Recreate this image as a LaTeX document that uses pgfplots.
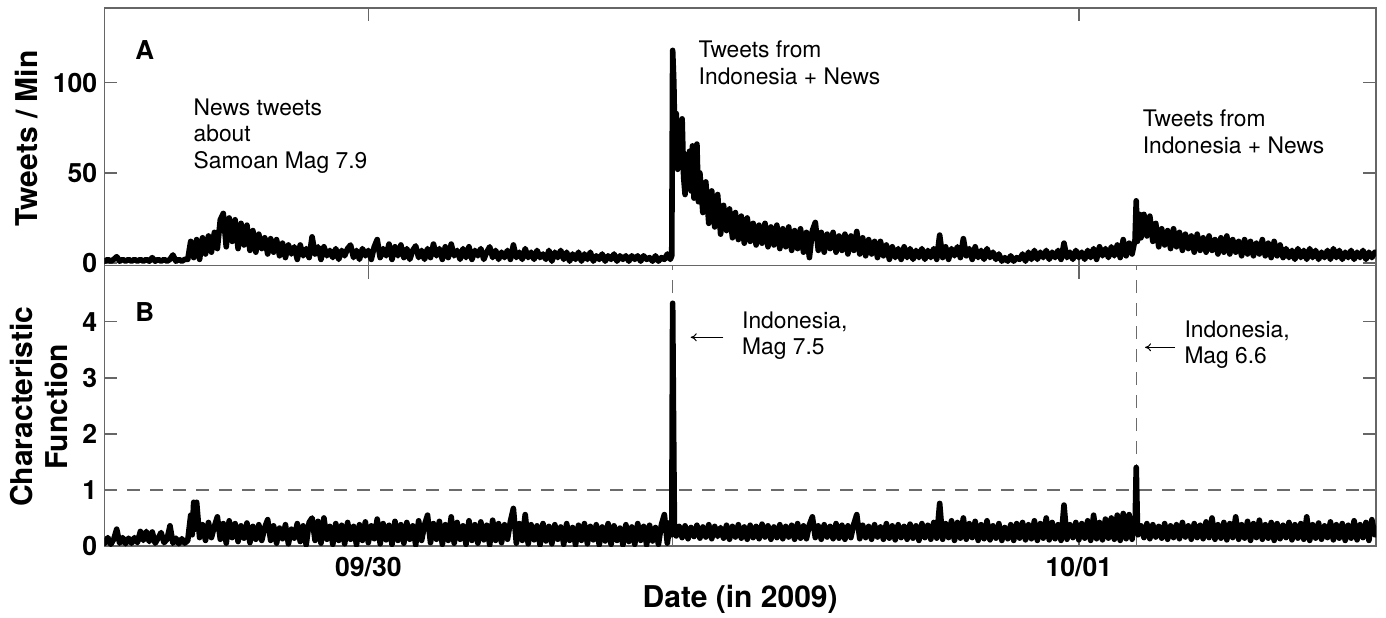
\documentclass[border=0pt]{standalone}
\usepackage{pgfplots}
\pgfplotsset{compat=1.18}
\usepackage{pgfplotstable}
\usepackage{fontspec}
\setmainfont{TeX Gyre Heros}
\usetikzlibrary{arrows.meta}
\definecolor{axgray}{gray}{0.4}
\definecolor{dashgray}{gray}{0.42}
\pgfplotsset{
 myaxis/.style={
  scale only axis, width=635.85pt, anchor=south west,
  xmin=15.081, xmax=58.04,
  xtick={24,48},
  tick align=inside, major tick length=6.5pt,
  axis line style={axgray, line width=0.7pt},
  tick style={axgray, line width=0.7pt},
  xtick pos=both, ytick pos=both,
  ticklabel style={font=\fontsize{13.3}{15}\selectfont\bfseries},
  /pgf/number format/assume math mode=true,
  label style={font=\fontsize{15}{17.5}\selectfont\bfseries},
 },
 dataline/.style={black, line width=2.8pt, line join=round, line cap=round, no markers},
 dashline/.style={dashgray, line width=0.6pt, dash pattern=on 6.5pt off 5pt, no markers},
}
\newcommand{\ann}{\fontsize{11.4}{13}\selectfont}
\begin{document}
\pgfplotstableread[row sep=\\]{
x y\\
15.1 1\\15.2 2\\15.3 1\\15.4 2\\15.5 3.5\\15.6 1\\15.7 2\\15.8 1\\15.9 2\\16.0 1\\
16.1 2\\16.2 1\\16.3 2\\16.4 1\\16.5 2\\16.6 1\\16.7 3\\16.8 1\\16.9 2\\17.0 1\\
17.1 2\\17.2 1\\17.3 2\\17.4 4.5\\17.5 1\\17.6 2\\17.7 1\\17.8 2\\17.9 2\\18.0 12\\
18.1 3\\18.2 13\\18.3 2\\18.4 14\\18.5 5\\18.6 15\\18.7 6\\18.8 17\\18.9 8\\19.0 24\\
19.1 27.5\\19.2 9\\19.3 25\\19.4 12\\19.5 24\\19.6 8\\19.7 22\\19.8 10\\19.9 21\\20.0 7\\
20.1 18\\20.2 6\\20.3 16\\20.4 8\\20.5 14\\20.6 5\\20.7 13.5\\20.8 6\\20.9 13\\21.0 4\\
21.1 11\\21.2 3\\21.3 10\\21.4 5\\21.5 9\\21.6 2\\21.7 10\\21.8 4\\21.9 8\\22.0 3\\
22.1 14.5\\22.2 5\\22.3 9\\22.4 2\\22.5 9\\22.6 4\\22.7 7\\22.8 3\\22.9 8\\23.0 2\\
23.1 7\\23.2 4\\23.3 8\\23.4 10\\23.5 3\\23.6 7\\23.7 2\\23.8 8\\23.9 4\\24.0 7\\
24.1 2\\24.2 9\\24.3 13\\24.4 3\\24.5 8\\24.6 4\\24.7 10.5\\24.8 2\\24.9 9\\25.0 4\\
25.1 10\\25.2 3\\25.3 8\\25.4 2\\25.5 7\\25.6 9.5\\25.7 3\\25.8 7\\25.9 2\\26.0 8\\
26.1 3\\26.2 10.5\\26.3 4\\26.4 8\\26.5 2\\26.6 9\\26.7 3\\26.8 10.5\\26.9 4\\27.0 7\\
27.1 2\\27.2 8\\27.3 3\\27.4 9\\27.5 2\\27.6 7\\27.7 4\\27.8 8\\27.9 2\\28.0 6\\
28.1 9\\28.2 3\\28.3 7\\28.4 2\\28.5 6\\28.6 3\\28.7 7\\28.8 2\\28.9 10\\29.0 3\\
29.1 6\\29.2 2\\29.3 8\\29.4 3\\29.5 6\\29.6 2\\29.7 7\\29.8 3\\29.9 5\\30.0 2\\
30.1 7\\30.2 1\\30.3 6\\30.4 3\\30.5 7\\30.6 2\\30.7 6\\30.8 1\\30.9 5\\31.0 2\\
31.1 6\\31.2 1\\31.3 5\\31.4 2\\31.5 6\\31.6 1\\31.7 4\\31.8 2\\31.9 5\\32.0 1\\
32.1 4\\32.2 2\\32.3 5\\32.4 1\\32.5 4\\32.6 2\\32.7 4\\32.8 1\\32.9 4\\33.0 2\\
33.1 4\\33.2 1\\33.3 4\\33.4 2\\33.5 3\\33.6 1\\33.7 4\\33.8 1\\33.9 3\\34.0 2\\
34.1 5\\34.2 2\\34.25 4\\34.28 118\\34.32 100\\34.36 62\\34.4 83\\34.45 52\\34.5 75\\34.55 58\\
34.6 80\\34.65 48\\34.7 38\\34.75 60\\34.8 45\\34.85 62\\34.9 40\\34.95 65\\35.0 36\\35.05 60\\
35.1 66\\35.15 34\\35.2 50\\35.3 28\\35.4 45\\35.5 22\\35.6 40\\35.7 20\\35.8 38\\35.9 16\\
36.0 32\\36.1 18\\36.2 30\\36.3 14\\36.4 28\\36.5 13\\36.6 26\\36.7 11\\36.8 25\\36.9 12\\
37.0 22\\37.1 10\\37.2 21\\37.3 11\\37.4 22\\37.5 9\\37.6 20\\37.7 10\\37.8 21\\37.9 8\\
38.0 19\\38.1 9\\38.2 20\\38.3 7\\38.4 18\\38.5 8\\38.6 19\\38.7 6\\38.8 17\\38.9 3\\
39.0 18\\39.1 22.5\\39.2 7\\39.3 17\\39.4 6\\39.5 16\\39.6 8\\39.7 17\\39.8 6\\39.9 15\\
40.0 7\\40.1 16\\40.2 5\\40.3 15\\40.4 7\\40.5 17.5\\40.6 5\\40.7 14\\40.8 4\\40.9 13\\
41.0 5\\41.1 12\\41.2 3\\41.3 12\\41.4 4\\41.5 10\\41.6 2\\41.7 9\\41.8 3\\41.9 8\\
42.0 2\\42.1 9\\42.2 3\\42.3 8\\42.4 2\\42.5 7\\42.6 3\\42.7 8\\42.8 2\\42.9 7\\
43.0 3\\43.1 8\\43.2 2\\43.3 15.5\\43.4 3\\43.5 9\\43.6 2\\43.7 8\\43.8 4\\43.9 9\\
44.0 3\\44.1 13.5\\44.2 4\\44.3 8\\44.4 2\\44.5 9\\44.6 3\\44.7 7\\44.8 2\\44.9 8\\
45.0 3\\45.1 6\\45.2 2\\45.3 5\\45.4 1\\45.5 3\\45.6 1\\45.7 4\\45.8 1\\45.9 3\\
46.0 2\\46.1 5\\46.2 1\\46.3 6\\46.4 2\\46.5 7\\46.6 2\\46.7 6\\46.8 3\\46.9 7\\
47.0 2\\47.1 6\\47.2 3\\47.3 7\\47.4 2\\47.5 11\\47.6 3\\47.7 6\\47.8 2\\47.9 7\\
48.0 3\\48.1 6\\48.2 2\\48.3 7\\48.4 3\\48.5 8\\48.6 2\\48.7 9\\48.8 4\\48.9 8\\
49.0 3\\49.1 9\\49.2 4\\49.3 10\\49.4 3\\49.5 13\\49.6 4\\49.7 11\\49.8 5\\49.9 13\\
49.94 34.5\\49.98 12\\50.0 20\\50.05 27\\50.1 14\\50.2 27\\50.3 15\\50.4 26\\50.5 12\\50.6 22\\
50.7 9\\50.8 19\\50.9 10\\51.0 18\\51.1 8\\51.2 19\\51.3 9\\51.4 17\\51.5 7\\51.6 16\\
51.7 8\\51.8 15\\51.9 6\\52.0 16\\52.1 7\\52.2 14\\52.3 6\\52.4 15\\52.5 7\\52.6 13\\
52.7 5\\52.8 14\\52.9 6\\53.0 15\\53.1 5\\53.2 13\\53.3 6\\53.4 12\\53.5 4\\53.6 13\\
53.7 5\\53.8 12\\53.9 4\\54.0 11\\54.1 5\\54.2 13\\54.3 4\\54.4 11\\54.5 3\\54.6 12\\
54.7 4\\54.8 10\\54.9 3\\55.0 8\\55.1 3\\55.2 7\\55.3 2\\55.4 8\\55.5 3\\55.6 7\\
55.7 2\\55.8 8\\55.9 3\\56.0 7\\56.1 2\\56.2 6\\56.3 3\\56.4 7\\56.5 2\\56.6 8\\
56.7 3\\56.8 7\\56.9 2\\57.0 6\\57.1 3\\57.2 7\\57.3 2\\57.4 6\\57.5 3\\57.6 7\\
57.7 2\\57.8 6\\57.9 3\\58.0 6\\
}\tweets
\pgfplotstableread[row sep=\\]{
x y\\
15.1 0.05\\15.2 0.15\\15.3 0.03\\15.4 0.12\\15.5 0.3\\15.6 0.05\\15.7 0.15\\15.8 0.04\\15.9 0.14\\16.0 0.05\\
16.1 0.15\\16.2 0.06\\16.3 0.26\\16.4 0.1\\16.5 0.26\\16.6 0.08\\16.7 0.25\\16.8 0.05\\16.9 0.14\\17.0 0.24\\
17.1 0.06\\17.2 0.12\\17.3 0.36\\17.4 0.05\\17.5 0.14\\17.6 0.04\\17.7 0.13\\17.8 0.05\\17.9 0.1\\18.0 0.55\\
18.05 0.2\\18.1 0.78\\18.15 0.3\\18.2 0.78\\18.3 0.15\\18.4 0.38\\18.5 0.1\\18.6 0.42\\18.7 0.15\\18.8 0.35\\
18.9 0.52\\19.0 0.12\\19.1 0.4\\19.2 0.05\\19.3 0.45\\19.4 0.15\\19.5 0.4\\19.6 0.08\\19.7 0.36\\19.8 0.14\\
19.9 0.41\\20.0 0.06\\20.1 0.35\\20.2 0.12\\20.3 0.38\\20.4 0.1\\20.5 0.33\\20.6 0.47\\20.7 0.1\\20.8 0.36\\
20.9 0.05\\21.0 0.32\\21.1 0.13\\21.2 0.38\\21.3 0.04\\21.4 0.3\\21.5 0.14\\21.6 0.4\\21.7 0.08\\21.8 0.36\\
21.9 0.02\\22.0 0.42\\22.1 0.5\\22.2 0.1\\22.3 0.44\\22.4 0.05\\22.5 0.5\\22.6 0.12\\22.7 0.35\\22.8 0.03\\
22.9 0.4\\23.0 0.1\\23.1 0.37\\23.2 0.04\\23.3 0.42\\23.4 0.12\\23.5 0.35\\23.6 0.02\\23.7 0.38\\23.8 0.1\\
23.9 0.43\\24.0 0.06\\24.1 0.36\\24.2 0.13\\24.3 0.48\\24.4 0.04\\24.5 0.4\\24.6 0.11\\24.7 0.37\\24.8 0.03\\
24.9 0.44\\25.0 0.1\\25.1 0.38\\25.2 0.05\\25.3 0.42\\25.4 0.12\\25.5 0.36\\25.6 0.02\\25.7 0.45\\25.8 0.1\\
25.9 0.38\\26.0 0.55\\26.1 0.06\\26.2 0.4\\26.3 0.12\\26.4 0.44\\26.5 0.03\\26.6 0.38\\26.7 0.1\\26.8 0.52\\
26.9 0.05\\27.0 0.42\\27.1 0.12\\27.2 0.36\\27.3 0.03\\27.4 0.45\\27.5 0.1\\27.6 0.38\\27.7 0.05\\27.8 0.43\\
27.9 0.11\\28.0 0.37\\28.1 0.02\\28.2 0.46\\28.3 0.1\\28.4 0.4\\28.5 0.06\\28.6 0.38\\28.7 0.12\\28.8 0.44\\
28.9 0.67\\29.0 0.05\\29.1 0.4\\29.2 0.1\\29.3 0.56\\29.4 0.04\\29.5 0.38\\29.6 0.11\\29.7 0.36\\29.8 0.02\\
29.9 0.4\\30.0 0.09\\30.1 0.35\\30.2 0.04\\30.3 0.38\\30.4 0.12\\30.5 0.34\\30.6 0.03\\30.7 0.4\\30.8 0.1\\
30.9 0.33\\31.0 0.02\\31.1 0.37\\31.2 0.1\\31.3 0.4\\31.4 0.04\\31.5 0.35\\31.6 0.11\\31.7 0.38\\31.8 0.02\\
31.9 0.34\\32.0 0.09\\32.1 0.4\\32.2 0.03\\32.3 0.36\\32.4 0.1\\32.5 0.32\\32.6 0.02\\32.7 0.38\\32.8 0.08\\
32.9 0.34\\33.0 0.03\\33.1 0.4\\33.2 0.1\\33.3 0.35\\33.4 0.02\\33.5 0.37\\33.6 0.09\\33.7 0.33\\33.8 0.03\\
33.9 0.38\\34.0 0.56\\34.1 0.05\\34.2 0.42\\34.25 0.2\\34.28 4.33\\34.31 2.2\\34.34 0.3\\34.4 0.18\\34.5 0.35\\
34.6 0.15\\34.7 0.36\\34.8 0.13\\34.9 0.33\\35.0 0.17\\35.1 0.37\\35.2 0.14\\35.3 0.34\\35.4 0.16\\35.5 0.38\\
35.6 0.13\\35.7 0.35\\35.8 0.17\\35.9 0.33\\36.0 0.14\\36.1 0.37\\36.2 0.12\\36.3 0.35\\36.4 0.16\\36.5 0.38\\
36.6 0.14\\36.7 0.34\\36.8 0.12\\36.9 0.37\\37.0 0.15\\37.1 0.35\\37.2 0.13\\37.3 0.39\\37.4 0.16\\37.5 0.36\\
37.6 0.12\\37.7 0.34\\37.8 0.15\\37.9 0.38\\38.0 0.13\\38.1 0.35\\38.2 0.16\\38.3 0.37\\38.4 0.12\\38.5 0.4\\
38.6 0.14\\38.7 0.36\\38.8 0.13\\38.9 0.38\\39.0 0.52\\39.1 0.15\\39.2 0.36\\39.3 0.12\\39.4 0.38\\39.5 0.16\\
39.6 0.35\\39.7 0.13\\39.8 0.4\\39.9 0.14\\40.0 0.37\\40.1 0.12\\40.2 0.36\\40.3 0.15\\40.4 0.39\\40.5 0.56\\
40.6 0.13\\40.7 0.37\\40.8 0.15\\40.9 0.35\\41.0 0.12\\41.1 0.38\\41.2 0.16\\41.3 0.34\\41.4 0.12\\41.5 0.4\\
41.6 0.14\\41.7 0.36\\41.8 0.11\\41.9 0.38\\42.0 0.15\\42.1 0.35\\42.2 0.12\\42.3 0.39\\42.4 0.14\\42.5 0.36\\
42.6 0.1\\42.7 0.4\\42.8 0.15\\42.9 0.37\\43.0 0.12\\43.1 0.42\\43.2 0.14\\43.3 0.76\\43.4 0.12\\43.5 0.4\\
43.6 0.15\\43.7 0.45\\43.8 0.1\\43.9 0.42\\44.0 0.14\\44.1 0.5\\44.2 0.12\\44.3 0.4\\44.4 0.15\\44.5 0.44\\
44.6 0.1\\44.7 0.38\\44.8 0.13\\44.9 0.45\\45.0 0.11\\45.1 0.36\\45.2 0.14\\45.3 0.4\\45.4 0.1\\45.5 0.33\\
45.6 0.13\\45.7 0.38\\45.8 0.1\\45.9 0.4\\46.0 0.14\\46.1 0.42\\46.2 0.11\\46.3 0.38\\46.4 0.13\\46.5 0.45\\
46.6 0.1\\46.7 0.4\\46.8 0.14\\46.9 0.5\\47.0 0.11\\47.1 0.42\\47.2 0.13\\47.3 0.38\\47.4 0.1\\47.5 0.73\\
47.6 0.12\\47.7 0.38\\47.8 0.15\\47.9 0.42\\48.0 0.11\\48.1 0.4\\48.2 0.14\\48.3 0.45\\48.4 0.1\\48.5 0.55\\
48.6 0.13\\48.7 0.42\\48.8 0.11\\48.9 0.48\\49.0 0.14\\49.1 0.5\\49.2 0.12\\49.3 0.55\\49.4 0.1\\49.5 0.58\\
49.6 0.13\\49.7 0.56\\49.8 0.12\\49.85 0.45\\49.9 0.3\\49.94 1.4\\49.98 0.4\\50.0 0.2\\50.1 0.36\\50.2 0.15\\
50.3 0.4\\50.4 0.13\\50.5 0.38\\50.6 0.16\\50.7 0.35\\50.8 0.14\\50.9 0.4\\51.0 0.12\\51.1 0.36\\51.2 0.15\\
51.3 0.38\\51.4 0.13\\51.5 0.42\\51.6 0.16\\51.7 0.36\\51.8 0.12\\51.9 0.4\\52.0 0.15\\52.1 0.37\\52.2 0.13\\
52.3 0.43\\52.4 0.15\\52.5 0.5\\52.6 0.12\\52.7 0.38\\52.8 0.14\\52.9 0.42\\53.0 0.11\\53.1 0.4\\53.2 0.15\\
53.3 0.52\\53.4 0.12\\53.5 0.38\\53.6 0.14\\53.7 0.44\\53.8 0.1\\53.9 0.4\\54.0 0.15\\54.1 0.46\\54.2 0.12\\
54.3 0.38\\54.4 0.14\\54.5 0.42\\54.6 0.1\\54.7 0.4\\54.8 0.13\\54.9 0.37\\55.0 0.15\\55.1 0.42\\55.2 0.11\\
55.3 0.38\\55.4 0.14\\55.5 0.4\\55.6 0.12\\55.7 0.52\\55.8 0.1\\55.9 0.38\\56.0 0.14\\56.1 0.41\\56.2 0.12\\
56.3 0.36\\56.4 0.15\\56.5 0.43\\56.6 0.11\\56.7 0.38\\56.8 0.14\\56.9 0.4\\57.0 0.1\\57.1 0.37\\57.2 0.14\\
57.3 0.45\\57.4 0.11\\57.5 0.38\\57.6 0.15\\57.7 0.42\\57.8 0.1\\57.9 0.47\\58.0 0.2\\
}\charfun
\begin{tikzpicture}
\useasboundingbox (0,0) rectangle (693pt,308.5pt);
% ---------- Panel A ----------
\begin{axis}[myaxis, at={(52.15pt,175.65pt)}, height=128.85pt,
  ymin=-1.5, ymax=141.5, ytick={0,50,100}, xticklabels={},
  ylabel={Tweets / Min},
  ylabel style={at={(axis description cs:-0.0608,0.4936)}, anchor=center}]
\addplot[dataline] table[x=x,y=y] {\tweets};
\node[anchor=base west, inner sep=0, font=\fontsize{13}{15}\selectfont\bfseries] at (axis cs:16.12,113.0) {A};
\node[anchor=base west, inner sep=0, font=\ann] at (axis cs:18.088,82.1) {News tweets};
\node[anchor=base west, inner sep=0, font=\ann] at (axis cs:18.088,67.3) {about};
\node[anchor=base west, inner sep=0, font=\ann] at (axis cs:18.088,52.7) {Samoan Mag 7.9};
\node[anchor=base west, inner sep=0, font=\ann] at (axis cs:35.148,113.9) {Tweets from};
\node[anchor=base west, inner sep=0, font=\ann] at (axis cs:35.148,99.3) {Indonesia + News};
\node[anchor=base west, inner sep=0, font=\ann] at (axis cs:50.148,76.0) {Tweets from};
\node[anchor=base west, inner sep=0, font=\ann] at (axis cs:50.148,60.9) {Indonesia + News};
\end{axis}
% ---------- Panel B ----------
\begin{axis}[myaxis, at={(52.15pt,35.5pt)}, height=140.15pt,
  ymin=0, ymax=5, ytick={0,1,2,3,4},
  xticklabels={09/30,10/01},
  xticklabel style={anchor=base, yshift=-15.35pt},
  xlabel={Date (in 2009)},
  xlabel style={at={(axis description cs:0.5,0)}, anchor=base, yshift=-30.5pt},
  ylabel={Characteristic\\Function},
  ylabel style={align=center, at={(axis description cs:-0.0513,0.497)}, anchor=center}]
\addplot[dashline] coordinates {(15.081,1) (58.04,1)};
\addplot[dashline] coordinates {(34.28,0) (34.28,5)};
\addplot[dashline] coordinates {(49.94,0) (49.94,5)};
\addplot[dataline] table[x=x,y=y] {\charfun};
\node[anchor=base west, inner sep=0, font=\fontsize{13}{15}\selectfont\bfseries] at (axis cs:16.12,4.01) {B};
\node[anchor=base west, inner sep=0, font=\ann] at (axis cs:36.615,3.883) {Indonesia,};
\node[anchor=base west, inner sep=0, font=\ann] at (axis cs:36.615,3.42) {Mag 7.5};
\draw[-{To[length=3pt,width=4pt]}, line width=0.5pt] (axis cs:35.99,3.723) -- (axis cs:34.89,3.723);
\node[anchor=base west, inner sep=0, font=\ann] at (axis cs:51.557,3.723) {Indonesia,};
\node[anchor=base west, inner sep=0, font=\ann] at (axis cs:51.557,3.259) {Mag 6.6};
\draw[-{To[length=3pt,width=4pt]}, line width=0.5pt] (axis cs:51.25,3.544) -- (axis cs:50.24,3.544);
\end{axis}
\end{tikzpicture}
\end{document}
